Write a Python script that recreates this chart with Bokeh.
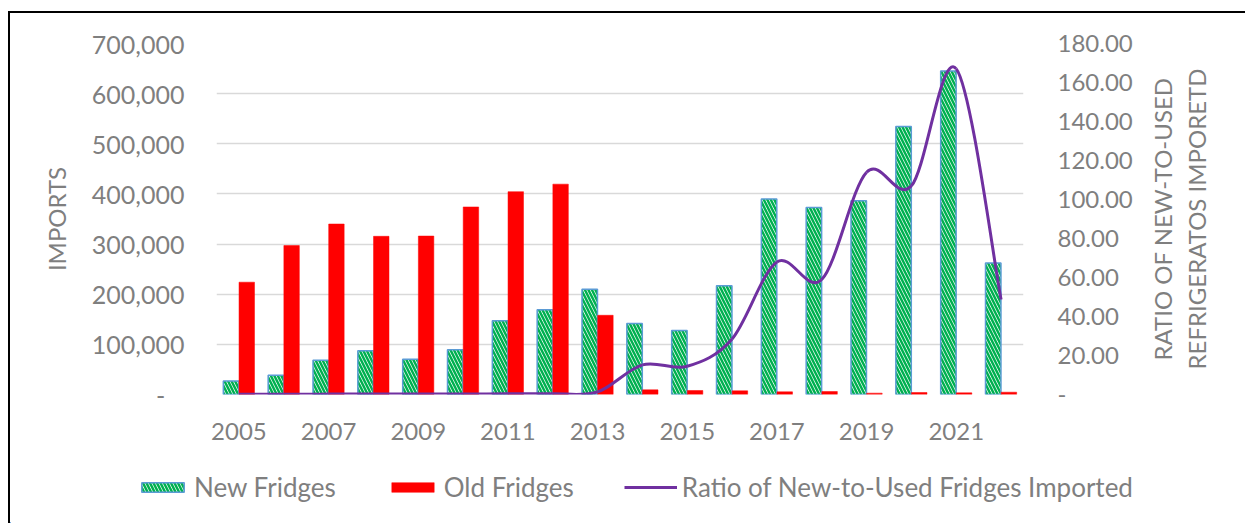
import numpy as np
from bokeh.plotting import figure
from bokeh.layouts import column, row
from bokeh.models import (Range1d, LinearAxis, FixedTicker, NumeralTickFormatter,
                          Legend, LegendItem, ColumnDataSource)
from bokeh.embed import file_html
from bokeh.resources import INLINE

years = [2005, 2006, 2007, 2008, 2009, 2010, 2011, 2012, 2013,
         2014, 2015, 2016, 2017, 2018, 2019, 2020, 2021, 2022]
new_fridges = [27000, 38500, 68500, 87500, 70500, 89000, 147000, 169000, 210000,
               141500, 127500, 217000, 390000, 373000, 386500, 534500, 645000, 262500]
old_fridges = [224000, 297000, 340000, 315500, 316000, 374000, 404500, 419500, 158000,
               9300, 8000, 7300, 5300, 6000, 2700, 4000, 3300, 4600]
ratio = [0.12, 0.13, 0.20, 0.28, 0.22, 0.24, 0.36, 0.40, 1.33,
         15.2, 14.5, 28.5, 68.0, 59.0, 114.0, 107.0, 167.0, 48.7]
left_ticks = [0, 100000, 200000, 300000, 400000, 500000, 600000, 700000]
right_ticks = [0, 20, 40, 60, 80, 100, 120, 140, 160, 180]
x_ticks = [2005, 2007, 2009, 2011, 2013, 2015, 2017, 2019, 2021]
series_names = ["New Fridges", "Old Fridges", "Ratio of New-to-Used Fridges Imported"]
left_title = "IMPORTS"
right_title = "RATIO OF NEW-TO-USED\nREFRIGERATOS IMPORETD"

FONT = "Lato"
GREY = "#7f7f7f"
FS = "24px"
W = 1235
W_MAIN = 1135
H_MAIN = 450

NEW_STYLE = dict(fill_color="white", line_color="#5b9bd5", line_width=1.5,
                 hatch_pattern="\\", hatch_color="#00b050", hatch_scale=7,
                 hatch_weight=2.5)
OLD_STYLE = dict(fill_color="#ff0000", line_color="#ff0000", line_width=0.5)
LINE_STYLE = dict(line_color="#7030a0", line_width=3)

p = figure(width=W_MAIN, height=H_MAIN, output_backend="svg", toolbar_location=None,
           x_range=Range1d(2004.5, 2022.5), y_range=Range1d(0, 700000),
           min_border_left=206, min_border_right=W_MAIN - 1013, min_border_top=30,
           min_border_bottom=69)
p.frame_align = False
p.extra_y_ranges = {"ratio": Range1d(0, 180)}
p.outline_line_color = None
p.background_fill_color = "white"
p.border_fill_color = "white"

yrs = np.array(years, dtype=float)
src = ColumnDataSource(dict(xn=yrs - 0.175, xo=yrs + 0.175,
                            new=new_fridges, old=old_fridges))

p.vbar(x="xn", top="new", width=0.345, source=src, **NEW_STYLE)
p.vbar(x="xo", top="old", width=0.345, source=src, **OLD_STYLE)

# smoothed ratio line (Catmull-Rom style bezier segments through the data)
X = yrs
Y = np.array(ratio, dtype=float)
Xp = np.concatenate([[X[0]], X, [X[-1]]])
Yp = np.concatenate([[Y[0]], Y, [Y[-1]]])
x0, y0 = X[:-1], Y[:-1]
x1, y1 = X[1:], Y[1:]
cx0 = x0 + (Xp[2:-1] - Xp[:-3]) / 6.0
cy0 = y0 + (Yp[2:-1] - Yp[:-3]) / 6.0
cx1 = x1 - (Xp[3:] - Xp[1:-2]) / 6.0
cy1 = y1 - (Yp[3:] - Yp[1:-2]) / 6.0
p.bezier(x0=x0, y0=y0, x1=x1, y1=y1, cx0=cx0, cy0=cy0, cx1=cx1, cy1=cy1,
         y_range_name="ratio", **LINE_STYLE)

# grid
p.xgrid.visible = False
p.ygrid.ticker = FixedTicker(ticks=left_ticks)
p.ygrid.grid_line_color = "#d9d9d9"
p.ygrid.grid_line_width = 1.5

def style_axis(ax):
    ax.axis_line_color = None
    ax.major_tick_line_color = None
    ax.minor_tick_line_color = None
    ax.major_tick_out = 0
    ax.major_tick_in = 0
    ax.major_label_text_font = FONT
    ax.major_label_text_font_size = FS
    ax.major_label_text_color = GREY
    ax.axis_label_text_font = FONT
    ax.axis_label_text_font_size = FS
    ax.axis_label_text_color = GREY
    ax.axis_label_text_font_style = "normal"

# left axis
ly = p.yaxis[0]
style_axis(ly)
ly.major_label_text_font_size = "25px"
ly.ticker = FixedTicker(ticks=left_ticks)
ly.formatter = NumeralTickFormatter(format="0,0")
ly.major_label_overrides = {0: "-\u00a0\u00a0\u00a0"}
ly.major_label_standoff = 32
ly.axis_label = left_title
ly.axis_label_standoff = 18

# bottom axis
bx = p.xaxis[0]
style_axis(bx)
bx.ticker = FixedTicker(ticks=x_ticks)
bx.major_label_standoff = 28

# right axis (tick labels only)
ry = LinearAxis(y_range_name="ratio")
style_axis(ry)
ry.ticker = FixedTicker(ticks=right_ticks)
ry.formatter = NumeralTickFormatter(format="0.00")
ry.major_label_overrides = {0: "-"}
ry.major_label_standoff = 34
p.add_layout(ry, "right")

# right-hand title strip (uses a left axis label so it reads bottom-to-top)
rf = figure(width=W - W_MAIN, height=H_MAIN, output_backend="svg", toolbar_location=None,
            x_range=Range1d(0, 1), y_range=Range1d(0, 1), x_axis_location=None,
            min_border_left=W - W_MAIN - 2, min_border_right=0, min_border_top=30,
            min_border_bottom=69)
rf.frame_align = False
rf.grid.visible = False
rf.outline_line_color = None
rf.background_fill_color = "white"
rf.border_fill_color = "white"
ra = rf.yaxis[0]
style_axis(ra)
ra.ticker = FixedTicker(ticks=[])
ra.major_label_standoff = 0
ra.axis_label = right_title
ra.axis_label_standoff = 33
ra.axis_label_text_line_height = 1.15

# legend strip below the chart
lf = figure(width=W, height=523 - 13 - H_MAIN, output_backend="svg", toolbar_location=None,
            x_range=Range1d(2030, 2050), y_range=Range1d(800000, 900000), min_border=0)
lf.frame_align = False
lf.axis.visible = False
lf.grid.visible = False
lf.outline_line_color = None
lf.background_fill_color = "white"
lf.border_fill_color = "white"
# legend proxies: same data, lying outside this strip's ranges
g_new = lf.vbar(x=years, top=new_fridges, width=0.1, **NEW_STYLE)
g_old = lf.vbar(x=years, top=old_fridges, width=0.1, **OLD_STYLE)
g_line = lf.line(x=years, y=ratio, **LINE_STYLE)

legend = Legend(items=[LegendItem(label=series_names[0], renderers=[g_new]),
                       LegendItem(label=series_names[1], renderers=[g_old]),
                       LegendItem(label=series_names[2], renderers=[g_line])],
                orientation="horizontal", location=(126, 20))
legend.glyph_width = 53
legend.glyph_height = 12
legend.label_standoff = 5
legend.spacing = 50
legend.padding = 0
legend.margin = 0
legend.border_line_color = None
legend.background_fill_alpha = 0
legend.label_text_font = FONT
legend.label_text_font_size = "26px"
legend.label_text_color = GREY
lf.add_layout(legend, "center")

layout = column(row(p, rf, spacing=0), lf, spacing=0)
layout.styles = {"margin-left": "8px", "margin-top": "11px",
                 "border-left": "2px solid black", "border-top": "2px solid black"}

open("out.html", "w").write(file_html(layout, INLINE))
